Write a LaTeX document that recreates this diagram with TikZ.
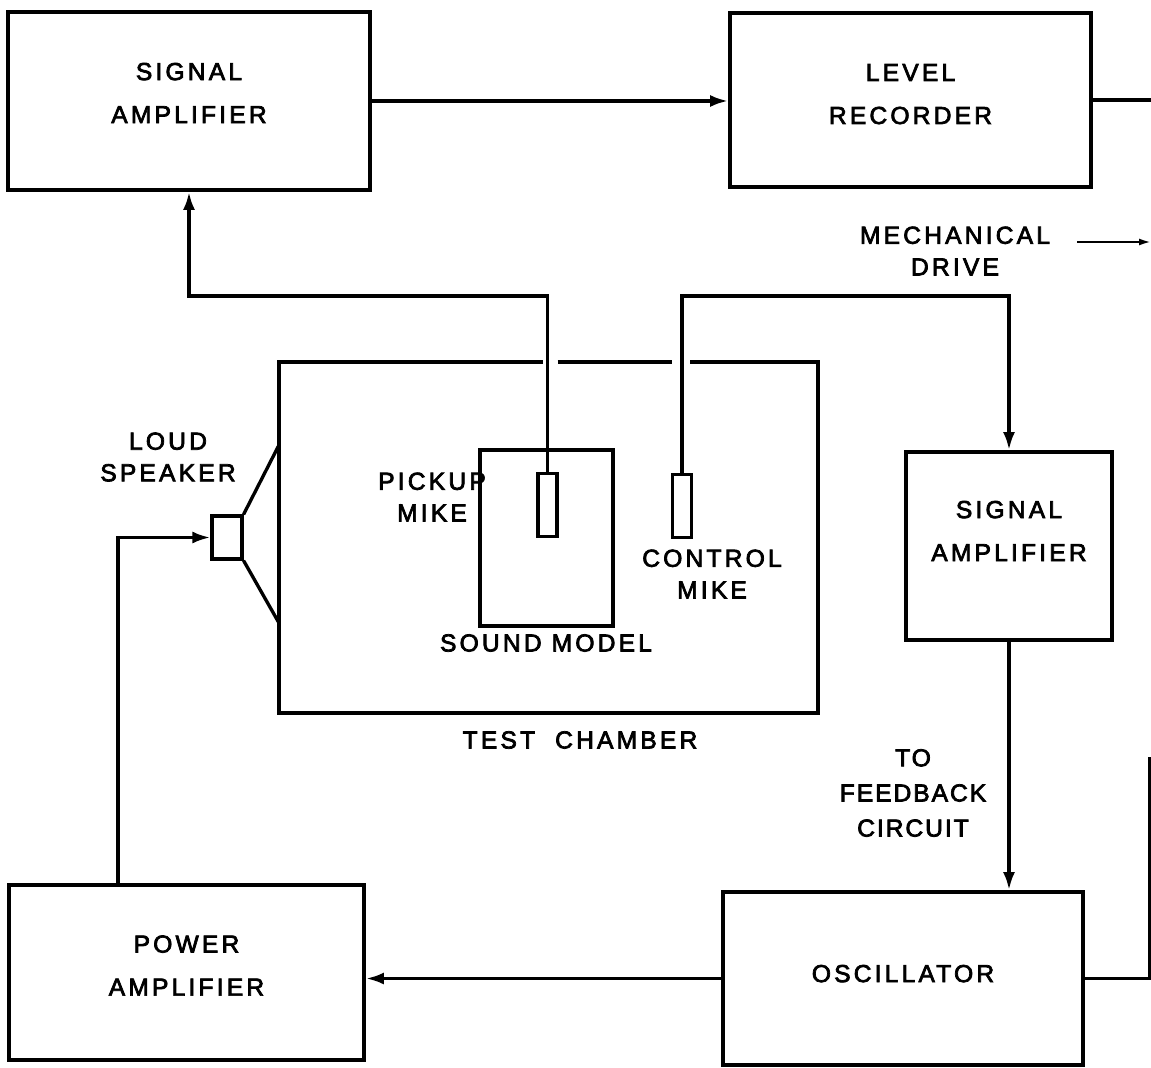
\documentclass[tikz,border=0pt]{standalone}
\usepackage{fontspec}
\setmainfont{Liberation Sans}[LetterSpace=13, FakeBold=3]
\usetikzlibrary{
  arrows.meta,
  calc
}

\begin{document}
\begin{tikzpicture}[
  x=0.02cm, y=-0.02cm,
  font=\fontsize{14}{24.5}\selectfont,
  block/.style={
    rectangle, draw=black, line width=2.2pt,
    align=center, inner sep=0pt
  },
  lift/.style={text depth=#1},
  mike/.style={
    rectangle, draw=black, line width=1.8pt,
    minimum width=0.38cm, minimum height=1.26cm, inner sep=0pt
  },
  annot/.style={align=center, font=\fontsize{14}{18}\selectfont},
  wire/.style={black, line width=1.9pt},
  flow/.style={-{Latex[length=3.6mm, width=2.4mm]}, black, line width=1.9pt},
  thinflow/.style={-{Latex[length=2.4mm, width=1.4mm]}, black, line width=1.2pt},
]

\useasboundingbox (0,0) rectangle (1151,1067);

% Top row: amplifier and recorder
\node[block, lift=0.32cm, minimum width=7.24cm, minimum height=3.56cm] (sigamp) at (189,101) {SIGNAL\\AMPLIFIER};
\node[block, lift=0.24cm, minimum width=7.22cm, minimum height=3.48cm] (recorder) at (910.5,100) {LEVEL\\RECORDER};

% Test chamber with model, mikes and speaker
\node[minimum width=10.78cm, minimum height=7.02cm, inner sep=0pt, outer sep=0pt] (chamber) at (548.5,537.5) {};
\node[block, minimum width=2.66cm, minimum height=3.52cm] (model) at (546.5,538) {};
\node[mike] (pmike) at (547.5,505) {};
\node[mike] (cmike) at (682,506) {};
\node[block, minimum width=0.6cm, minimum height=0.86cm, line width=1.8pt] (speaker) at (227,537.5) {};

% Right column
\node[block, lift=0.6cm, minimum width=4.12cm, minimum height=3.76cm] (fbamp) at (1009,546) {SIGNAL\\AMPLIFIER};

% Bottom row
\node[block, lift=0.28cm, minimum width=7.1cm, minimum height=3.5cm] (pamp) at (186.5,972.5) {POWER\\AMPLIFIER};
\node[block, lift=0.2cm, minimum width=7.2cm, minimum height=3.46cm] (osc) at (903,978.5) {OSCILLATOR};

% Free ends
\coordinate (wirelevel) at (0,296);
\coordinate (recout) at (1151,101);
\coordinate (drivefrom) at (1077,242);
\coordinate (driveto) at (1151,242);
\coordinate (conetop) at (279,445);
\coordinate (conebot) at (279,623);
\coordinate (oscup) at (1150,757);

% Chamber walls, open where the mike leads pass
\draw[wire, line width=2.2pt] ($(chamber.north -| pmike.north)+(-5,0)$) -- (chamber.north west)
  -- (chamber.south west) -- (chamber.south east) -- (chamber.north east)
  -- ($(chamber.north -| cmike.north)+(8,0)$);
\draw[wire, line width=2.2pt] ($(chamber.north -| pmike.north)+(10,0)$) -- ($(chamber.north -| cmike.north)+(-10,0)$);

% Loudspeaker cone
\draw[wire] (speaker.north east) -- (conetop);
\draw[wire] (speaker.south east) -- (conebot);

% Signal flows
\draw[flow] (sigamp.east) -- (sigamp.east -| recorder.west);
\draw[wire] (recorder.east) -- (recorder.east -| recout);
\draw[thinflow] (drivefrom) -- (driveto);
\draw[flow] (pmike.north) -- (pmike.north |- wirelevel) -| (sigamp.south);
\draw[flow] (cmike.north) -- (cmike.north |- wirelevel) -| (fbamp.north);
\draw[flow] (fbamp.south) -- (fbamp.south |- osc.north);
\draw[flow] (osc.west) -- (osc.west -| pamp.east);
\draw[flow] ([xshift=2.22cm]pamp.north west) |- (speaker.west);
\draw[wire] (osc.east) -- (osc.east -| oscup) -- (oscup);

% Labels
\node[annot] (drivetxt) at (955,251) {MECHANICAL\\DRIVE};
\node[annot] (speakertxt) at (168,457) {LOUD\\SPEAKER};
\node[annot] (pmiketxt) at (432,497) {PICKUP\\MIKE};
\node[annot] (cmiketxt) at (712,574) {CONTROL\\MIKE};
\node[annot] (modeltxt) at (546,643) {SOUND MODEL};
\node[annot] (chambertxt) at (580,740) {TEST\ \ CHAMBER};
\node[annot, font=\fontsize{14}{20}\selectfont\addfontfeatures{LetterSpace=8}] (fbtxt) at (913,793) {TO\\FEEDBACK\\CIRCUIT};

\end{tikzpicture}
\end{document}
